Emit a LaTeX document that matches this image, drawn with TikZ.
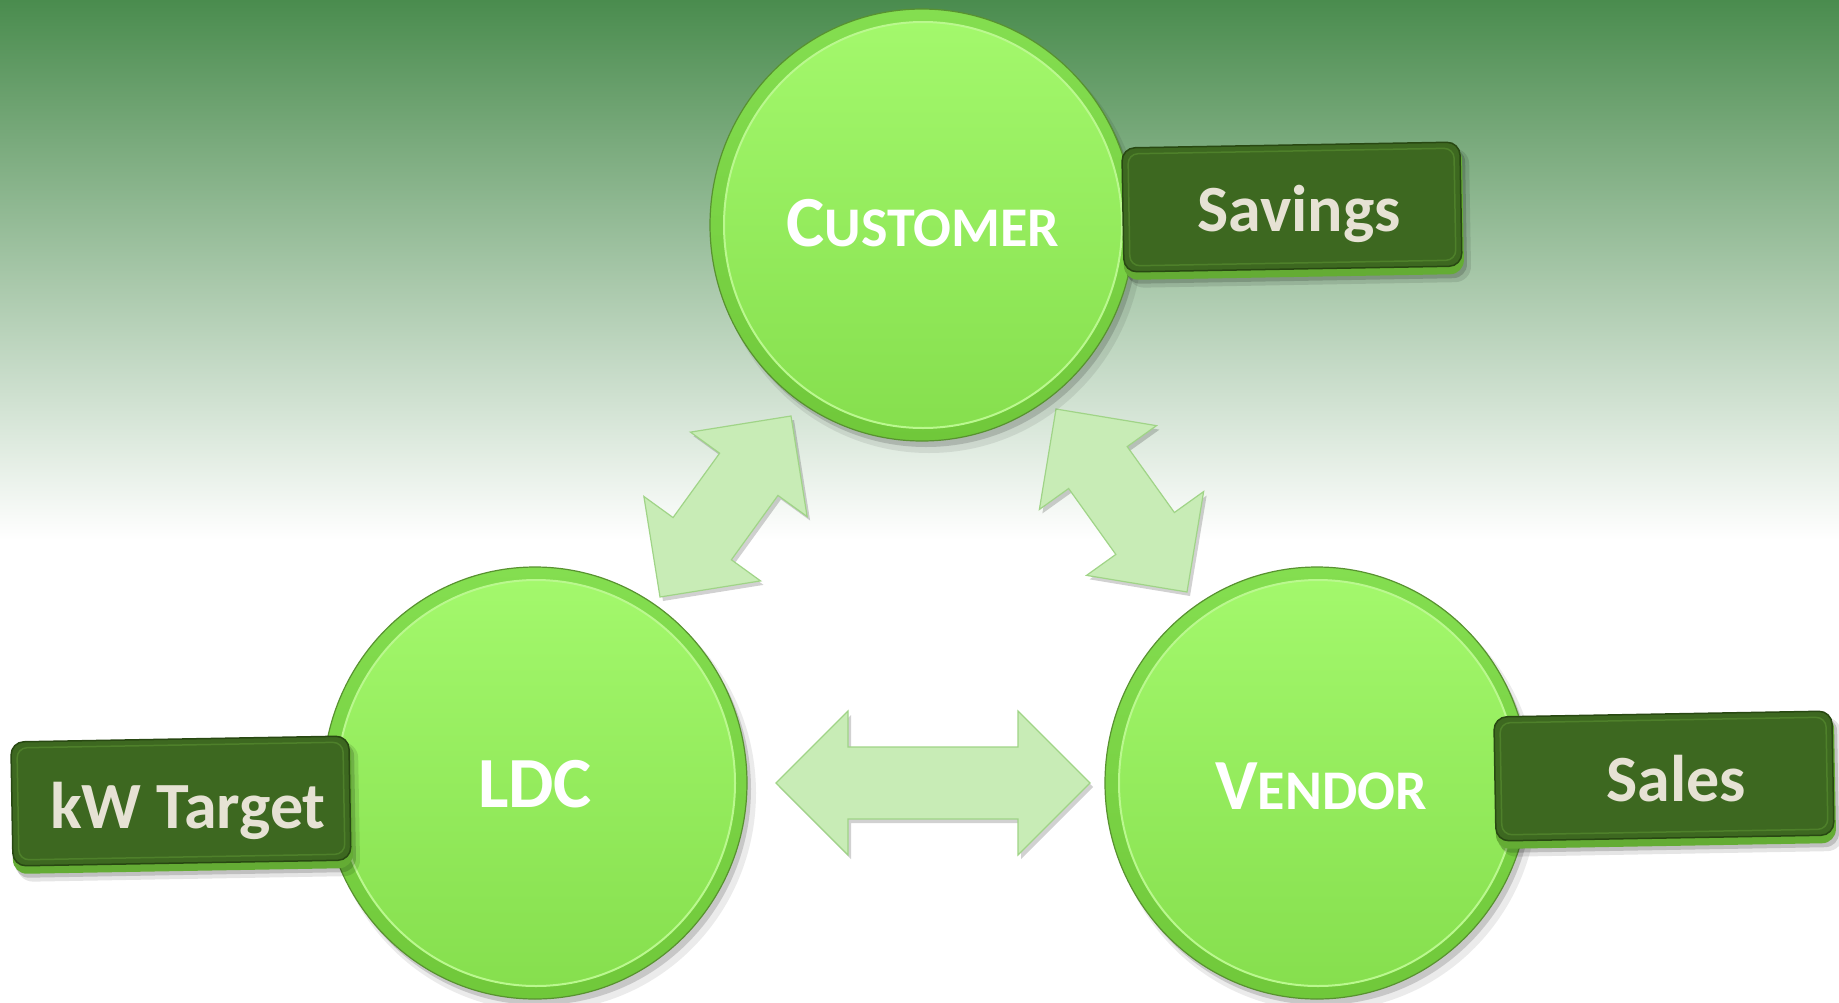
\documentclass[tikz,border=0pt]{standalone}
\usepackage{fontspec}
\setmainfont{Carlito}
\usetikzlibrary{calc}
\definecolor{bgtop}{RGB}{74,140,78}
\definecolor{bubA}{RGB}{132,222,80}
\definecolor{bubB}{RGB}{112,200,58}
\definecolor{bubEdge}{RGB}{88,146,48}
\definecolor{bubC}{RGB}{163,248,108}
\definecolor{bubD}{RGB}{134,223,78}
\definecolor{bubHi}{RGB}{186,248,142}
\definecolor{tagFace}{RGB}{61,104,32}
\definecolor{tagEdge}{RGB}{40,72,18}
\definecolor{tagRim}{RGB}{100,172,52}
\definecolor{tagBevel}{RGB}{78,128,42}
\definecolor{tagText}{RGB}{230,226,212}
\definecolor{arrFill}{RGB}{200,236,182}
\definecolor{arrEdge}{RGB}{160,212,135}
\tikzset{
  flowarrow/.style={fill=arrFill, draw=arrEdge, line width=1.2pt, line join=miter},
  flowshadow/.style={fill=black, opacity=.18},
  btext/.style={font=\fontsize{72pt}{72pt}\selectfont\bfseries, inner sep=0pt, anchor=base, text=white},
  tagfont/.style={font=\fontsize{66pt}{66pt}\selectfont\bfseries, inner sep=0pt, anchor=base, text=tagText}
}
\newcommand\dblarrow[3]{%
  \path[#1] let \p1=($(#3)-(#2)$), \n1={atan2(\y1,\x1)} in
   (#2) -- ($(#2)+(\n1:72pt)+({\n1+90}:72pt)$) -- ($(#2)+(\n1:72pt)+({\n1+90}:36pt)$)
   -- ($(#3)+({\n1+180}:72pt)+({\n1+90}:36pt)$) -- ($(#3)+({\n1+180}:72pt)+({\n1+90}:72pt)$)
   -- (#3)
   -- ($(#3)+({\n1+180}:72pt)+({\n1-90}:72pt)$) -- ($(#3)+({\n1+180}:72pt)+({\n1-90}:36pt)$)
   -- ($(#2)+(\n1:72pt)+({\n1-90}:36pt)$) -- ($(#2)+(\n1:72pt)+({\n1-90}:72pt)$) -- cycle;}
\newcommand\bubble[2]{%
  \fill[black,opacity=.08] (#1+7,#2-10) ellipse [x radius=214,y radius=218];
  \fill[black,opacity=.15] (#1+4,#2-6) ellipse [x radius=212,y radius=216];
  \shade[top color=bubA, bottom color=bubB, draw=bubEdge, line width=1.2pt] (#1,#2) ellipse [x radius=212,y radius=216];
  \shade[top color=bubC, bottom color=bubD, draw=bubHi, line width=2pt] (#1+1,#2) ellipse [x radius=199,y radius=203];}
\newcommand\tagbox[3]{%
  \begin{scope}[shift={(#1,#2)}, rotate=#3]
    \fill[black,opacity=.10,rounded corners=16pt] (-166,-74) rectangle (177,60);
    \fill[black,opacity=.16,rounded corners=14pt] (-168,-70) rectangle (173,60);
    \fill[tagRim,rounded corners=14pt] (-170,-66) rectangle (170,62);
    \filldraw[fill=tagFace,draw=tagEdge,line width=1.5pt,rounded corners=13pt] (-170,-58) rectangle (168,66);
    \draw[tagBevel,line width=1.5pt,rounded corners=10pt] (-164,-52) rectangle (162,60);
  \end{scope}}
\newcommand\fsc[2]{#1{\fontsize{56pt}{56pt}\selectfont #2}}
\begin{document}
\begin{tikzpicture}[x=1pt,y=1pt]
\useasboundingbox (0,0) rectangle (1839,-1002);
% background
\fill[white] (0,0) rectangle (1839,-1002);
\shade[top color=bgtop, bottom color=white] (0,0) rectangle (1839,-540);
% arrow end points
\coordinate (hL) at (776,-783);
\coordinate (hR) at (1090,-783);
\coordinate (ulA) at (660,-597);
\coordinate (ulB) at (791,-416);
\coordinate (urA) at (1056,-409);
\coordinate (urB) at (1187,-592);
% arrows
\begin{scope}[transform canvas={xshift=3pt,yshift=-4pt}]
  \dblarrow{flowshadow}{hL}{hR}
  \dblarrow{flowshadow}{ulA}{ulB}
  \dblarrow{flowshadow}{urA}{urB}
\end{scope}
\dblarrow{flowarrow}{hL}{hR}
\dblarrow{flowarrow}{ulA}{ulB}
\dblarrow{flowarrow}{urA}{urB}
% circles
\bubble{922}{-225}
\bubble{535}{-783}
\bubble{1317}{-783}
% tags
\tagbox{1293}{-211}{1}
\tagbox{182}{-805}{1}
\tagbox{1665}{-780}{1}
% texts
\node[btext] (customer) at (923,-246) {\fsc{C}{USTOMER}};
\node[btext] (ldc) at (535,-807) {LDC};
\node[btext] (vendor) at (1321,-809) {\fsc{V}{ENDOR}};
\node[tagfont] (savings) at (1299,-231) {Savings};
\node[tagfont] (kwtarget) at (188,-828) {kW Target};
\node[tagfont] (sales) at (1676,-801) {Sales};
\end{tikzpicture}
\end{document}
